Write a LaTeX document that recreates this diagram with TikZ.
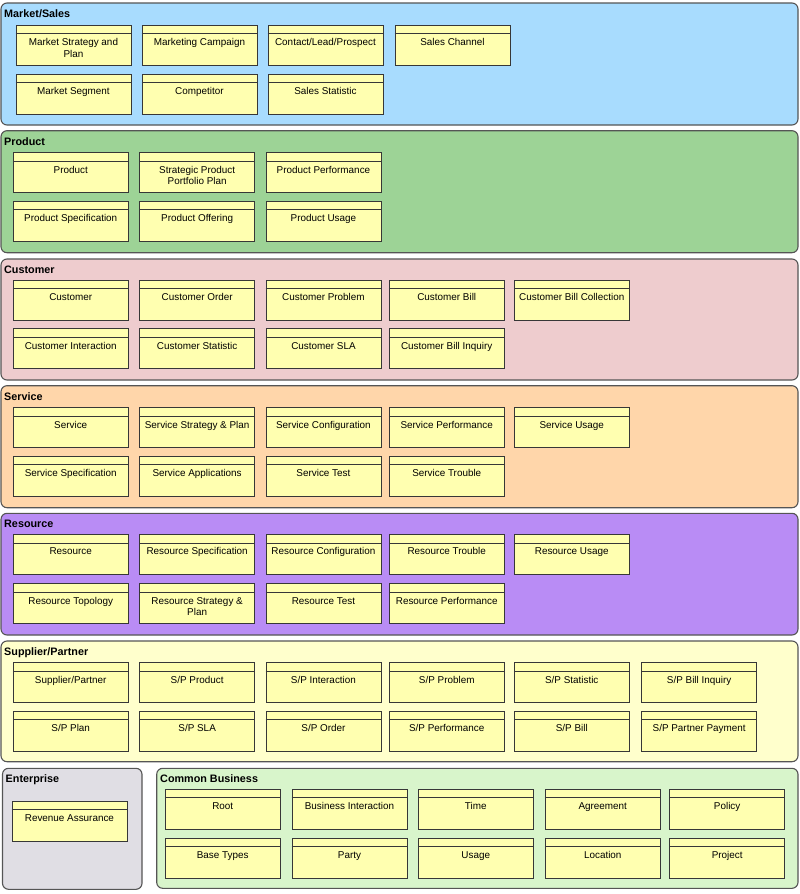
\documentclass[tikz,border=0pt]{standalone}
\usepackage{fontspec}
\setmainfont{Liberation Sans}
\definecolor{mktblue}{RGB}{168,220,254}
\definecolor{prodgreen}{RGB}{157,211,150}
\definecolor{custpink}{RGB}{238,204,206}
\definecolor{servorange}{RGB}{255,214,170}
\definecolor{respurple}{RGB}{185,140,245}
\definecolor{supyellow}{RGB}{255,255,204}
\definecolor{entgray}{RGB}{224,222,228}
\definecolor{comgreen}{RGB}{216,245,203}
\definecolor{clsfill}{RGB}{255,255,176}
\definecolor{clsdraw}{RGB}{55,55,55}
\definecolor{sectdraw}{RGB}{85,85,85}
% one class: name, left, top, text
\newcommand{\clsbox}[4]{%
  \node[clsbox] (#1) at (#2,#3) {};
  \draw[clsline] ([yshift=-9pt]#1.north west) -- ([yshift=-9pt]#1.north east);
  \node[clstext] (#1-t) at ([yshift=-13.5pt]#1.north) {\vphantom{l}#4};
}
\begin{document}
\begin{tikzpicture}[x=1pt,y=-1pt,
    sect/.style={draw=sectdraw,line width=1.1pt,rounded corners=6pt},
    secttitle/.style={anchor=base west,inner sep=0,font=\fontsize{10.8}{13}\selectfont\bfseries},
    clsbox/.style={draw=clsdraw,fill=clsfill,line width=0.9pt,anchor=north west,
      inner sep=0,minimum width=115pt,minimum height=40pt},
    clsline/.style={draw=clsdraw,line width=0.9pt},
    clstext/.style={anchor=north,inner sep=0,align=center,font=\fontsize{9.9}{11.7}\selectfont}]
  \useasboundingbox (0,0) rectangle (800,894);
  % Market/Sales
  \draw[sect,fill=mktblue] (1,3) rectangle (798,125);
  \node[secttitle] (mkt) at (4,17.3) {Market/Sales};
  \clsbox{mktplan}{15.5}{24.5}{Market Strategy and\\Plan}
  \clsbox{mktcamp}{141.5}{24.5}{Marketing Campaign}
  \clsbox{mktlead}{267.5}{24.5}{Contact/Lead/Prospect}
  \clsbox{mktchan}{394.5}{24.5}{Sales Channel}
  \clsbox{mktseg}{15.5}{73.5}{Market Segment}
  \clsbox{mktcomp}{141.5}{73.5}{Competitor}
  \clsbox{mktstat}{267.5}{73.5}{Sales Statistic}
  % Product
  \draw[sect,fill=prodgreen] (1,130.7) rectangle (798,252.7);
  \node[secttitle] (prod) at (4,145) {Product};
  \clsbox{prod1}{12.8}{152.2}{Product}
  \clsbox{prodport}{139.2}{152.2}{Strategic Product\\Portfolio Plan}
  \clsbox{prodperf}{265.5}{152.2}{Product Performance}
  \clsbox{prodspec}{12.8}{200.5}{Product Specification}
  \clsbox{prodoff}{139.2}{200.5}{Product Offering}
  \clsbox{produse}{265.5}{200.5}{Product Usage}
  % Customer
  \draw[sect,fill=custpink] (1,259) rectangle (798,380);
  \node[secttitle] (cust) at (4,273.3) {Customer};
  \clsbox{cust1}{12.8}{279.5}{Customer}
  \clsbox{custord}{139.2}{279.5}{Customer Order}
  \clsbox{custprob}{265.5}{279.5}{Customer Problem}
  \clsbox{custbill}{388.8}{279.5}{Customer Bill}
  \clsbox{custcoll}{513.8}{279.5}{Customer Bill Collection}
  \clsbox{custint}{12.8}{328.2}{Customer Interaction}
  \clsbox{custstat}{139.2}{328.2}{Customer Statistic}
  \clsbox{custsla}{265.5}{328.2}{Customer SLA}
  \clsbox{custinq}{388.8}{328.2}{Customer Bill Inquiry}
  % Service
  \draw[sect,fill=servorange] (1,385.7) rectangle (798,507.7);
  \node[secttitle] (serv) at (4,400) {Service};
  \clsbox{serv1}{12.8}{407.2}{Service}
  \clsbox{servplan}{139.2}{407.2}{Service Strategy \& Plan}
  \clsbox{servconf}{265.5}{407.2}{Service Configuration}
  \clsbox{servperf}{388.8}{407.2}{Service Performance}
  \clsbox{servuse}{513.8}{407.2}{Service Usage}
  \clsbox{servspec}{12.8}{455.5}{Service Specification}
  \clsbox{servapp}{139.2}{455.5}{Service Applications}
  \clsbox{servtest}{265.5}{455.5}{Service Test}
  \clsbox{servtrbl}{388.8}{455.5}{Service Trouble}
  % Resource
  \draw[sect,fill=respurple] (1,513.3) rectangle (798,635);
  \node[secttitle] (res) at (4,527.6) {Resource};
  \clsbox{res1}{12.8}{534}{Resource}
  \clsbox{resspec}{139.2}{534}{Resource Specification}
  \clsbox{resconf}{265.5}{534}{Resource Configuration}
  \clsbox{restrbl}{388.8}{534}{Resource Trouble}
  \clsbox{resuse}{513.8}{534}{Resource Usage}
  \clsbox{restopo}{12.8}{583.2}{Resource Topology}
  \clsbox{resplan}{139.2}{583.2}{Resource Strategy \&\\Plan}
  \clsbox{restest}{265.5}{583.2}{Resource Test}
  \clsbox{resperf}{388.8}{583.2}{Resource Performance}
  % Supplier/Partner
  \draw[sect,fill=supyellow] (1,641) rectangle (798,761.7);
  \node[secttitle] (sup) at (4,655.3) {Supplier/Partner};
  \clsbox{sup1}{12.8}{662.2}{Supplier/Partner}
  \clsbox{supprod}{139.2}{662.2}{S/P Product}
  \clsbox{supint}{265.5}{662.2}{S/P Interaction}
  \clsbox{supprob}{388.8}{662.2}{S/P Problem}
  \clsbox{supstat}{513.8}{662.2}{S/P Statistic}
  \clsbox{supinq}{641.2}{662.2}{S/P Bill Inquiry}
  \clsbox{supplan}{12.8}{710.5}{S/P Plan}
  \clsbox{supsla}{139.2}{710.5}{S/P SLA}
  \clsbox{supord}{265.5}{710.5}{S/P Order}
  \clsbox{supperf}{388.8}{710.5}{S/P Performance}
  \clsbox{supbill}{513.8}{710.5}{S/P Bill}
  \clsbox{suppay}{641.2}{710.5}{S/P Partner Payment}
  % Enterprise
  \draw[sect,fill=entgray] (2.5,768.3) rectangle (142,889.3);
  \node[secttitle] (ent) at (5.5,782.6) {Enterprise};
  \clsbox{entrev}{11.5}{800.5}{Revenue Assurance}
  % Common Business
  \draw[sect,fill=comgreen] (156.7,768.3) rectangle (798,888.3);
  \node[secttitle] (com) at (160,782.6) {Common Business};
  \clsbox{comroot}{164.8}{788.8}{Root}
  \clsbox{comint}{291.5}{788.8}{Business Interaction}
  \clsbox{comtime}{417.8}{788.8}{Time}
  \clsbox{comagr}{544.8}{788.8}{Agreement}
  \clsbox{compol}{669.2}{788.8}{Policy}
  \clsbox{combase}{164.8}{837.8}{Base Types}
  \clsbox{comparty}{291.5}{837.8}{Party}
  \clsbox{comuse}{417.8}{837.8}{Usage}
  \clsbox{comloc}{544.8}{837.8}{Location}
  \clsbox{comproj}{669.2}{837.8}{Project}
\end{tikzpicture}
\end{document}
